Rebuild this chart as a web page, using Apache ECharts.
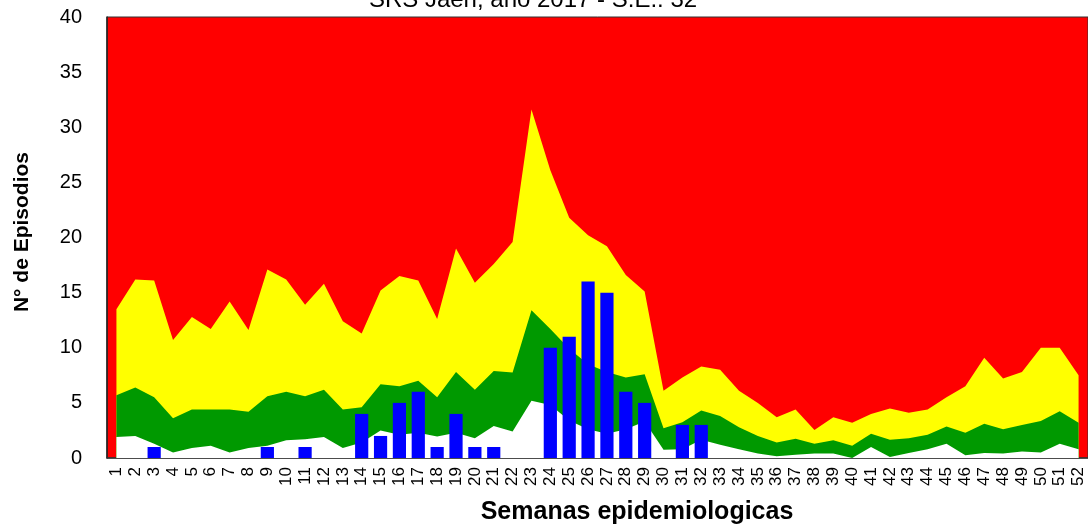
<!DOCTYPE html>
<html>
<head>
<meta charset="utf-8">
<script src="https://cdn.jsdelivr.net/npm/echarts@6/dist/echarts.min.js"></script>
<style>
html,body{margin:0;padding:0;background:#fff;}
#c{width:1088px;height:525px;}
</style>
</head>
<body>
<div id="c"></div>
<script>
var weeks = [];
for (var i = 1; i <= 52; i++) weeks.push(String(i));

var lowBand = [1.9,2.0,1.3,0.5,0.9,1.1,0.5,0.9,1.1,1.6,1.7,1.9,0.9,1.4,2.5,2.1,2.3,
  1.95,2.3,1.8,2.9,2.4,5.2,4.8,3.4,2.6,2.2,2.6,3.3,0.75,0.8,1.65,1.2,0.8,
  0.4,0.15,0.3,0.4,0.4,0,1.0,0.1,0.45,0.8,1.3,0.25,0.45,0.4,0.6,0.5,1.3,0.8];

var midBand = [5.7,6.4,5.5,3.6,4.4,4.4,4.4,4.2,5.6,6.0,5.6,6.2,4.4,4.6,6.7,6.5,7.0,
  5.5,7.8,6.2,7.9,7.75,13.4,11.7,9.9,8.5,7.8,7.3,7.6,2.7,3.25,4.3,3.8,2.8,
  2.0,1.4,1.75,1.3,1.6,1.1,2.2,1.65,1.8,2.1,2.85,2.3,3.1,2.6,3.0,3.35,4.25,3.2];

var highBand = [13.5,16.2,16.1,10.7,12.8,11.7,14.2,11.6,17.1,16.2,13.9,15.8,12.4,11.3,15.2,16.5,16.1,
  12.6,19.0,15.9,17.6,19.6,31.6,26.1,21.8,20.2,19.2,16.6,15.1,6.1,7.3,8.3,8.0,6.1,
  5.0,3.7,4.4,2.55,3.7,3.2,4.0,4.5,4.1,4.4,5.5,6.5,9.1,7.2,7.8,10.0,10.0,7.5];

var cases2017 = [0,0,1,0,0,0,0,0,1,0,1,0,0,4,2,5,6,1,4,1,1,0,0,10,11,16,15,6,5,0,3,3,
  null,null,null,null,null,null,null,null,null,null,null,null,null,null,null,null,null,null,null,null];

var yTicks = { min: 0, max: 40, interval: 5 };

var chart = echarts.init(document.getElementById('c'), null, { renderer: 'canvas' });

function band(name, data, color, z) {
  return {
    name: name, type: 'line', data: data, z: z,
    symbol: 'none', silent: true,
    lineStyle: { width: 0, color: color },
    areaStyle: { color: color, opacity: 1 },
    itemStyle: { color: color }
  };
}

chart.setOption({
  animation: false,
  backgroundColor: '#ffffff',
  textStyle: { fontFamily: 'Liberation Sans, Arial, sans-serif' },
  grid: {
    left: 107, top: 17, width: 985, height: 441,
    show: true, backgroundColor: '#ff0000', borderColor: '#333333', borderWidth: 1
  },
  xAxis: {
    type: 'category', data: weeks, boundaryGap: true,
    axisLine: { show: true, lineStyle: { color: '#333333', width: 1.5 } },
    axisTick: { show: false },
    axisLabel: { interval: 0, rotate: 90, margin: 9, fontSize: 17, color: '#000', fontFamily: 'Liberation Sans' },
    splitLine: { show: false }
  },
  yAxis: {
    type: 'value', min: yTicks.min, max: yTicks.max, interval: yTicks.interval,
    axisLine: { show: true, lineStyle: { color: '#222222', width: 1.5 } },
    axisTick: { show: false },
    axisLabel: { margin: 25, fontSize: 20, color: '#000', fontFamily: 'Liberation Sans' },
    splitLine: { show: false }
  },
  series: [
    band('Alto', highBand, '#ffff00', 1),
    band('Medio', midBand, '#009900', 2),
    band('Bajo', lowBand, '#ffffff', 3),
    {
      name: 'Casos 2017', type: 'bar', data: cases2017, z: 5,
      barWidth: '70%',
      itemStyle: { color: '#0000ff', borderWidth: 0 }
    }
  ],
  graphic: [
    {
      type: 'text', x: 533, y: 12, z: 10,
      style: { text: 'SRS Jaén, año 2017 - S.E.: 32', textAlign: 'center', textVerticalAlign: 'bottom',
        font: '24px "Liberation Sans", Arial, sans-serif', fill: '#000' }
    },
    {
      type: 'text', x: 637, y: 512, z: 10,
      style: { text: 'Semanas epidemiologicas', textAlign: 'center', textVerticalAlign: 'middle',
        font: 'bold 25px "Liberation Sans", Arial, sans-serif', fill: '#000' }
    },
    {
      type: 'text', x: 22, y: 232, rotation: Math.PI / 2, z: 10,
      style: { text: 'N° de Episodios', textAlign: 'center', textVerticalAlign: 'middle',
        font: 'bold 21px "Liberation Sans", Arial, sans-serif', fill: '#000' }
    }
  ]
});
</script>
</body>
</html>
